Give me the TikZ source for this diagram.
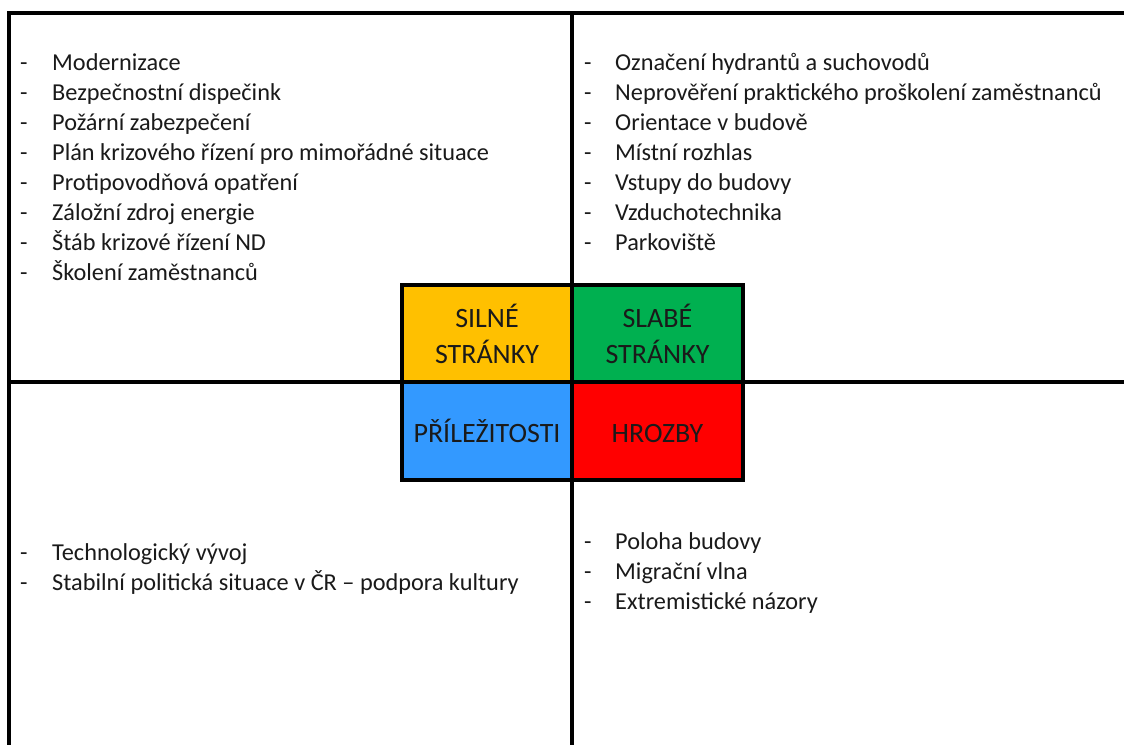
\documentclass[tikz,border=0pt]{standalone}
\usepackage{fontspec}
\setmainfont{Carlito}
\definecolor{swS}{HTML}{FFC000}
\definecolor{swW}{HTML}{00B050}
\definecolor{swO}{HTML}{3399FF}
\definecolor{swT}{HTML}{FF0000}
\definecolor{txt}{HTML}{1A1A1A}
\begin{document}
\begin{tikzpicture}[x=1pt,y=-1pt,
  item/.style={anchor=base west, inner sep=0pt, font=\fontsize{24.3}{29}\selectfont, text=txt},
  quad/.style={draw=black, line width=4pt, minimum width=170.5pt, minimum height=97.5pt, inner sep=0pt, align=center, font=\fontsize{28}{36}\selectfont, text=txt},
  frame/.style={line width=4pt, draw=black}]
\useasboundingbox (0,0) rectangle (1124,745);
\fill[white] (0,0) rectangle (1124,745);
% frame
\coordinate (tl) at (9,13);
\coordinate (tr) at (1124,13);
\coordinate (bl) at (9,745);
\coordinate (ml) at (9,382);
\coordinate (mr) at (1124,382);
\coordinate (mt) at (572,13);
\coordinate (mb) at (572,745);
\draw[frame] (tr) -- (tl) -- (bl);
\draw[frame] (ml) -- (mr);
\draw[frame] (mt) -- (mb);
% center quadrants
\node[quad, fill=swS] (S) at (487,333.5) {SILNÉ\\STRÁNKY};
\node[quad, fill=swW] (W) at (657.5,333.5) {SLABÉ\\STRÁNKY};
\node[quad, fill=swO] (O) at (487,431) {PŘÍLEŽITOSTI};
\node[quad, fill=swT] (T) at (657.5,431) {\vphantom{PŘÍ}HROZBY};
% strengths
\foreach \t [count=\i] in {Modernizace, Bezpečnostní dispečink, Požární zabezpečení, Plán krizového řízení pro mimořádné situace, Protipovodňová opatření, Záložní zdroj energie, Štáb krizové řízení ND, Školení zaměstnanců}{
  \node[item] (sd\i) at (20,{70+30*(\i-1)}) {-};
  \node[item] (s\i) at (52,{70+30*(\i-1)}) {\t};
}
% weaknesses
\foreach \t [count=\i] in {Označení hydrantů a suchovodů, Neprověření praktického proškolení zaměstnanců, Orientace v budově, Místní rozhlas, Vstupy do budovy, Vzduchotechnika, Parkoviště}{
  \node[item] (wd\i) at (584,{70+30*(\i-1)}) {-};
  \node[item] (w\i) at (615,{70+30*(\i-1)}) {\t};
}
% opportunities
\foreach \t [count=\i] in {Technologický vývoj, Stabilní politická situace v ČR – podpora kultury}{
  \node[item] (od\i) at (20,{560+30*(\i-1)}) {-};
  \node[item] (o\i) at (52,{560+30*(\i-1)}) {\t};
}
% threats
\foreach \t [count=\i] in {Poloha budovy, Migrační vlna, Extremistické názory}{
  \node[item] (td\i) at (584,{549+30*(\i-1)}) {-};
  \node[item] (t\i) at (615,{549+30*(\i-1)}) {\t};
}
\end{tikzpicture}
\end{document}
